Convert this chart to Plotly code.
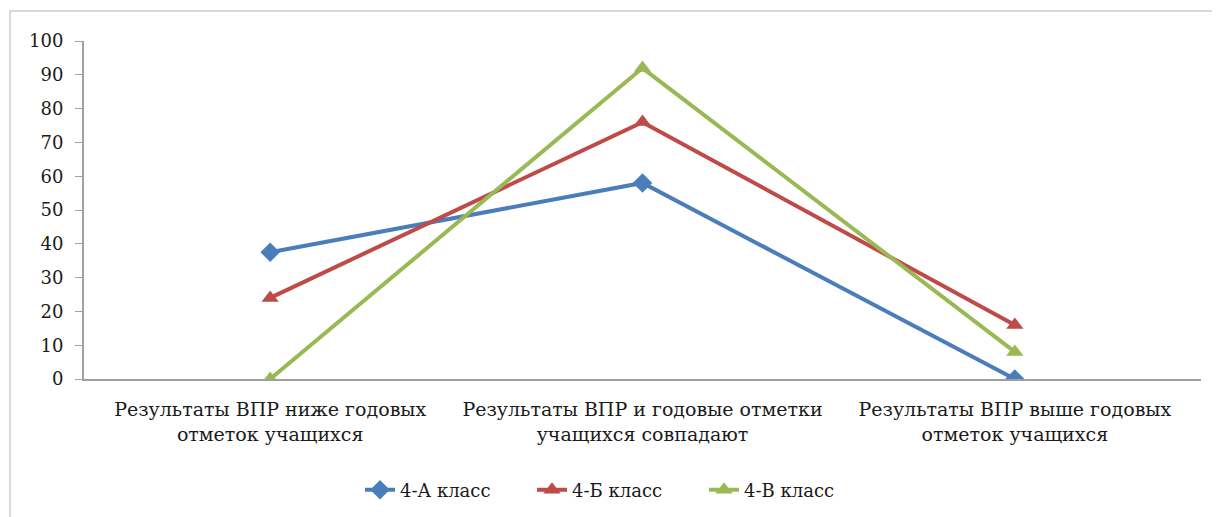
import plotly.graph_objects as go

categories = ["Результаты ВПР ниже годовых<br>отметок учащихся",
              "Результаты ВПР и годовые отметки<br>учащихся совпадают",
              "Результаты ВПР выше годовых<br>отметок учащихся"]
series_names = ["4-А класс", "4-Б класс", "4-В класс"]
vals_a = [37.5, 58, 0]
vals_b = [24, 76, 16]
vals_v = [0, 92, 8]
colors = ["#4A7EBB", "#BE4B48", "#98B954"]
symbols = ["diamond", "triangle-up", "triangle-up"]

fig = go.Figure()
for name, vals, c, s in zip(series_names, [vals_a, vals_b, vals_v], colors, symbols):
    fig.add_trace(go.Scatter(x=categories, y=vals, name=name, mode="lines+markers",
                             line=dict(color=c, width=4),
                             marker=dict(symbol=s, size=15, color=c)))

OFF = 8  # default page body margin
W, H = 1220, 517
L, T = 84 - OFF, 41 - OFF
R = W - (1201 - OFF)
B = H - (379 - OFF)
pw, ph = W - L - R, H - T - B

def px(p):
    return (p - OFF - L) / pw

def py(p):
    return (T + ph - (p - OFF)) / ph

fig.add_shape(type="rect", xref="paper", yref="paper",
              x0=px(10), x1=px(1240), y0=py(540), y1=py(11),
              line=dict(color="#d9d9d9", width=2), layer="below")

FONT = "DejaVu Serif"
fig.update_layout(
    width=W, height=H, margin=dict(l=L, r=R, t=T, b=B, autoexpand=False),
    paper_bgcolor="white", plot_bgcolor="white",
    font=dict(family=FONT, size=19, color="#1a1a1a"),
    showlegend=True,
    legend=dict(orientation="h", x=px(618), xanchor="center", y=py(490),
                yanchor="middle", font=dict(family=FONT, size=18), entrywidth=127),
    xaxis=dict(showline=True, linecolor="#a0a0a0", linewidth=2, showgrid=False,
               ticks="", range=[-0.5, 2.5], ticklabelstandoff=12, automargin=False,
               tickfont=dict(family=FONT, size=19)),
    yaxis=dict(range=[0, 100], dtick=10, showline=True, linecolor="#a0a0a0", linewidth=2,
               showgrid=False, ticks="outside", ticklen=7, tickcolor="#a0a0a0",
               zeroline=False, ticklabelstandoff=8, automargin=False,
               tickfont=dict(family=FONT, size=18)),
)
fig.write_html("out.html")
